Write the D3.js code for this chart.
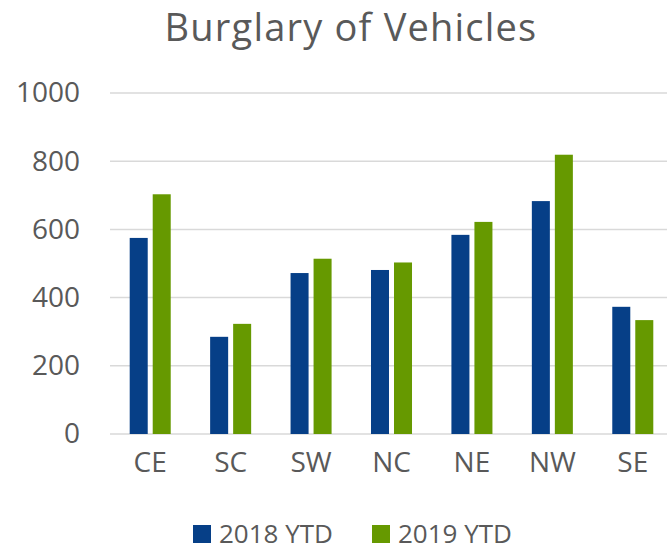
<!DOCTYPE html>
<html>
<head>
<meta charset="utf-8">
<script src="https://cdn.jsdelivr.net/npm/d3@7"></script>
<style>
  html, body { margin: 0; padding: 0; background: #fff; }
  text { font-family: "Open Sans", sans-serif; fill: #595959; }
</style>
</head>
<body>
<div id="chart"></div>
<script>
const categories = ["CE", "SC", "SW", "NC", "NE", "NW", "SE"];
const seriesNames = ["2018 YTD", "2019 YTD"];
const values2018 = [575, 285, 472, 481, 584, 683, 373];
const values2019 = [703, 323, 514, 503, 622, 819, 334];
const yTicks = [0, 200, 400, 600, 800, 1000];

const colors = { "2018 YTD": "#063f87", "2019 YTD": "#669900" };

const width = 668, height = 551;
const margin = { top: 93, right: -5, bottom: 117, left: 110 };

const svg = d3.select("#chart")
    .append("svg")
    .attr("width", width)
    .attr("height", height);

const data = categories.map((c, i) => ({
    cat: c,
    vals: [
        { key: seriesNames[0], value: values2018[i] },
        { key: seriesNames[1], value: values2019[i] }
    ]
}));

const x0 = d3.scaleBand()
    .domain(categories)
    .range([margin.left, width - margin.right])
    .paddingInner(0.49)
    .paddingOuter(0.245);

const x1 = d3.scaleBand()
    .domain(seriesNames)
    .range([0, x0.bandwidth()])
    .paddingInner(0.217);

const y = d3.scaleLinear()
    .domain([0, 1000])
    .range([height - margin.bottom, margin.top]);

// title
svg.append("text")
    .attr("x", 351)
    .attr("y", 41)
    .attr("text-anchor", "middle")
    .style("font-size", "38px")
    .style("letter-spacing", "1.2px")
    .text("Burglary of Vehicles");

// gridlines
svg.append("g")
    .selectAll("line")
    .data(yTicks)
    .join("line")
    .attr("x1", margin.left)
    .attr("x2", 667)
    .attr("y1", d => y(d))
    .attr("y2", d => y(d))
    .attr("stroke", "#d9d9d9")
    .attr("stroke-width", 1.5);

// y axis labels
const yAxis = svg.append("g")
    .attr("transform", "translate(80,0)")
    .call(d3.axisLeft(y).tickValues(yTicks).tickFormat(d3.format("d")).tickSize(0).tickPadding(0));
yAxis.select(".domain").remove();
yAxis.selectAll("text")
    .attr("fill", "#595959")
    .style("font-size", "28px")
    .style("font-family", "Open Sans, sans-serif");

// bars
const groups = svg.append("g")
    .selectAll("g")
    .data(data)
    .join("g")
    .attr("transform", d => `translate(${x0(d.cat)},0)`);

groups.selectAll("rect")
    .data(d => d.vals)
    .join("rect")
    .attr("x", d => x1(d.key))
    .attr("y", d => y(d.value))
    .attr("width", x1.bandwidth())
    .attr("height", d => y(0) - y(d.value))
    .attr("fill", d => colors[d.key]);

// x axis labels
const xAxis = svg.append("g")
    .attr("transform", `translate(0,${height - margin.bottom})`)
    .call(d3.axisBottom(x0).tickSize(0).tickPadding(18));
xAxis.select(".domain").remove();
xAxis.selectAll("text")
    .attr("fill", "#595959")
    .style("font-size", "28px")
    .style("font-family", "Open Sans, sans-serif");

// legend
const legendX = [193, 372];
const legend = svg.append("g")
    .selectAll("g")
    .data(seriesNames)
    .join("g")
    .attr("transform", (d, i) => `translate(${legendX[i]},525)`);

legend.append("rect")
    .attr("width", 18)
    .attr("height", 18)
    .attr("fill", d => colors[d]);

legend.append("text")
    .attr("x", 26)
    .attr("y", 18)
    .style("font-size", "26px")
    .text(d => d);
</script>
</body>
</html>
